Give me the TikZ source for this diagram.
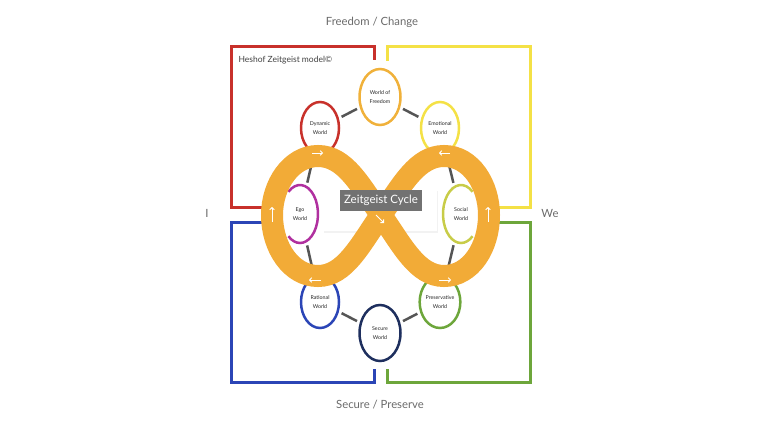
\documentclass[tikz,border=0pt]{standalone}
\usepackage{fontspec}
\setmainfont{Lato}
\usetikzlibrary{shapes.geometric, arrows.meta}

\definecolor{ringorange}{HTML}{F2AB37}
\definecolor{frred}{HTML}{C8312B}
\definecolor{fryellow}{HTML}{F4E146}
\definecolor{frblue}{HTML}{2B45B6}
\definecolor{frgreen}{HTML}{6DA63B}
\definecolor{freeorange}{HTML}{F0B13A}
\definecolor{egomagenta}{HTML}{B0309F}
\definecolor{socialolive}{HTML}{C8CC48}
\definecolor{securenavy}{HTML}{1E2F5E}
\definecolor{linkgray}{HTML}{555555}
\definecolor{textgray}{HTML}{6A6A6A}
\definecolor{labelgray}{HTML}{727272}

\begin{document}
\begin{tikzpicture}[
    x=1pt, y=-1pt,
    world/.style={ellipse, draw=#1, line width=2.5pt, inner sep=0pt, minimum width=38pt, minimum height=52pt, align=center, text=black!85, font=\fontsize{5.3}{9.5}\selectfont},
    bigworld/.style={world=#1, minimum width=41pt, minimum height=56pt},
    openworld/.style={world=none, draw=none, minimum width=36pt, minimum height=58pt},
    arcline/.style={draw=#1, line width=2.5pt},
    link/.style={draw=linkgray, line width=2.5pt, shorten <=3pt, shorten >=3pt},
    frame/.style={line width=3pt},
    ring/.style={draw=ringorange, line width=22pt},
    flow/.style={draw=white, line width=0.9pt, -{Straight Barb[length=2.2pt, width=4.5pt]}},
    axis/.style={text=textgray, font=\fontsize{11.3}{14}\selectfont}
]
    \useasboundingbox (0,0) rectangle (760,428);

    % outer frames
    \draw[frame, frred] (374,60) -- (374,47) -- (231,47) -- (231,207) -- (268,207);
    \draw[frame, fryellow] (387,61) -- (387,47) -- (530,47) -- (530,207) -- (492,207);
    \draw[frame, frblue] (268,222) -- (231,222) -- (231,382) -- (374,382) -- (374,369);
    \draw[frame, frgreen] (492,222) -- (530,222) -- (530,382) -- (387,382) -- (387,369);

    \node[axis] (freedom-change) at (372,22) {Freedom / Change};
    \node[axis] (secure-preserve) at (380,405) {Secure / Preserve};
    \node[axis] (i-label) at (207,213) {I};
    \node[axis] (we-label) at (550,213) {We};
    \node[anchor=west, text=black!75, font=\fontsize{8.5}{10}\selectfont] (model) at (235,60) {Heshof Zeitgeist model©};

    % the worlds
    \node[bigworld=freeorange] (freedom) at (380,97) {World of\\Freedom};
    \node[world=frred] (dynamic) at (320,128) {Dynamic\\World};
    \node[world=fryellow] (emotional) at (440,128) {Emotional\\World};
    \node[openworld] (ego) at (300,214) {Ego\\World};
    \node[openworld] (social) at (461,214) {Social\\World};
    \node[world=frblue] (rational) at (320,302) {Rational\\World};
    \node[world=frgreen] (preservative) at (440,302) {Preservative\\World};
    \node[bigworld=securenavy] (secure) at (380,333) {Secure\\World};

    \draw[arcline=egomagenta] ([shift={(130:18pt and 29pt)}]ego.center) arc[start angle=130, end angle=-130, x radius=18pt, y radius=29pt];
    \draw[arcline=socialolive] ([shift={(50:18pt and 29pt)}]social.center) arc[start angle=50, end angle=310, x radius=18pt, y radius=29pt];

    \draw[link] (freedom) -- (dynamic);
    \draw[link] (freedom) -- (emotional);
    \draw[link] (dynamic) -- (ego);
    \draw[link] (emotional) -- (social);
    \draw[link] (ego) -- (rational);
    \draw[link] (social) -- (preservative);
    \draw[link] (rational) -- (secure);
    \draw[link] (secure) -- (preservative);

    % white panel behind the cycle
    \fill[black!5] (324,191) rectangle (438,233);
    \fill[white] (323,189) rectangle (437,231);

    % infinity band
    \draw[ring] (381,215) .. controls (360,185) and (345,156) .. (318,156)
        .. controls (291,156) and (272,185) .. (272,215)
        .. controls (272,247) and (291,276) .. (318,276)
        .. controls (345,276) and (360,245) .. (381,215)
        .. controls (402,185) and (417,156) .. (444,156)
        .. controls (471,156) and (489,185) .. (489,215)
        .. controls (489,247) and (471,276) .. (444,276)
        .. controls (417,276) and (402,245) .. cycle;

    \draw[flow] (312,153) -- (323,153);
    \draw[flow] (450,153) -- (439,153);
    \draw[flow] (272,222) -- (272,207);
    \draw[flow] (488,222) -- (488,207);
    \draw[flow] (321,280) -- (309,280);
    \draw[flow] (439,280) -- (451,280);
    \draw[flow] (376,215) -- (384,223);

    \node[fill=labelgray, text=white, minimum width=82pt, minimum height=21pt, inner sep=0pt, font=\fontsize{11.5}{13}\selectfont] (cycle) at (381,200) {Zeitgeist Cycle};
\end{tikzpicture}
\end{document}
